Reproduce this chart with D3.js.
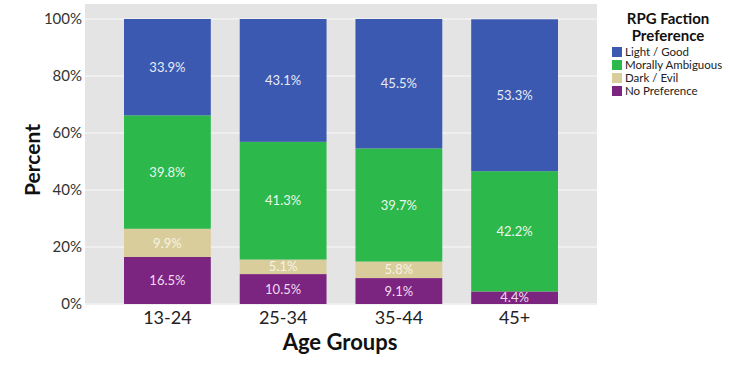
<!DOCTYPE html>
<html><head><meta charset="utf-8">
<script src="https://cdn.jsdelivr.net/npm/d3@7"></script>
<style>body{margin:0;background:#fff}svg{display:block;font-family:Lato,"Open Sans",sans-serif}</style>
</head><body><svg id="c" width="730" height="366"></svg>
<script>
const categories = ["13-24", "25-34", "35-44", "45+"];
const seriesNames = ["No Preference", "Dark / Evil", "Morally Ambiguous", "Light / Good"];
const noPreference = [16.5, 10.5, 9.1, 4.4];
const darkEvil = [9.9, 5.1, 5.8, 0];
const morallyAmbiguous = [39.8, 41.3, 39.7, 42.2];
const lightGood = [33.9, 43.1, 45.5, 53.3];
const yTicks = [0, 20, 40, 60, 80, 100];
const legendOrder = ["Light / Good", "Morally Ambiguous", "Dark / Evil", "No Preference"];

const colors = {"Light / Good":"#3b59b0","Morally Ambiguous":"#2cb84b","Dark / Evil":"#d9cd9c","No Preference":"#7b2580"};
const textColors = {"Light / Good":"#e8ecf8","Morally Ambiguous":"#e9f7ec","Dark / Evil":"#f7f3e4","No Preference":"#f2dcf2"};

const svg = d3.select("#c");
const panel = {x0:85, x1:597, y0:4, y1:305};
const x = d3.scaleBand().domain(categories).range([124, 558]).paddingInner(0.25).paddingOuter(0);
const y = d3.scaleLinear().domain([0, 100]).range([304, 19]);

svg.append("rect").attr("x", panel.x0).attr("y", panel.y0).attr("width", panel.x1 - panel.x0).attr("height", panel.y1 - panel.y0).attr("fill", "#e4e4e4");

svg.append("g").selectAll("line").data(yTicks).join("line")
  .attr("x1", panel.x0).attr("x2", panel.x1).attr("y1", d => y(d)).attr("y2", d => y(d))
  .attr("stroke", "#fafafa").attr("stroke-width", 1.2);

const values = {"No Preference": noPreference, "Dark / Evil": darkEvil, "Morally Ambiguous": morallyAmbiguous, "Light / Good": lightGood};
const rows = categories.map((c, i) => { const r = {cat: c}; seriesNames.forEach(s => r[s] = values[s][i]); return r; });
const stacked = d3.stack().keys(seriesNames)(rows);

const layers = svg.append("g").selectAll("g").data(stacked).join("g").attr("fill", d => colors[d.key]);
layers.selectAll("rect").data(d => d.map(v => ({key: d.key, v}))).join("rect")
  .attr("x", d => x(d.v.data.cat)).attr("width", x.bandwidth())
  .attr("y", d => y(Math.min(100, d.v[1]))).attr("height", d => Math.max(0, y(d.v[0]) - y(Math.min(100, d.v[1]))));

layers.selectAll("text").data(d => d.map(v => ({key: d.key, v})).filter(d => d.v[1] - d.v[0] > 0)).join("text")
  .attr("x", d => x(d.v.data.cat) + x.bandwidth() / 2)
  .attr("y", d => (y(d.v[0]) + y(Math.min(100, d.v[1]))) / 2)
  .attr("dy", "0.36em").attr("text-anchor", "middle")
  .attr("fill", d => textColors[d.key]).attr("font-size", 13)
  .text(d => (d.v[1] - d.v[0]).toFixed(1) + "%");

// y axis labels
svg.append("g").selectAll("text").data(yTicks).join("text")
  .attr("x", 82).attr("y", d => y(d)).attr("dy", "0.36em").attr("text-anchor", "end")
  .attr("font-size", 15).attr("fill", "#333").text(d => d + "%");

// x axis labels
svg.append("g").selectAll("text").data(categories).join("text")
  .attr("x", d => x(d) + x.bandwidth() / 2).attr("y", 324).attr("text-anchor", "middle")
  .attr("font-size", 18).attr("fill", "#222").text(d => d);

svg.append("text").attr("x", 340).attr("y", 350).attr("text-anchor", "middle")
  .attr("font-size", 22).attr("font-weight", "bold").attr("fill", "#111").text("Age Groups");
svg.append("text").attr("transform", "translate(40,160) rotate(-90)").attr("text-anchor", "middle")
  .attr("font-size", 21).attr("font-weight", "bold").attr("fill", "#111").text("Percent");

// legend
const lg = svg.append("g");
lg.append("text").attr("x", 668).attr("y", 23.5).attr("text-anchor", "middle").attr("font-size", 15).attr("font-weight", "bold").attr("fill", "#111").text("RPG Faction");
lg.append("text").attr("x", 668).attr("y", 40.5).attr("text-anchor", "middle").attr("font-size", 15).attr("font-weight", "bold").attr("fill", "#111").text("Preference");
const items = lg.selectAll("g").data(legendOrder).join("g").attr("transform", (d, i) => `translate(612,${47 + i * 13})`);
items.append("rect").attr("width", 10).attr("height", 10).attr("fill", d => colors[d]);
items.append("text").attr("x", 13).attr("y", 5).attr("dy", "0.36em").attr("font-size", 11.5).attr("fill", "#222").text(d => d);
</script></body></html>
